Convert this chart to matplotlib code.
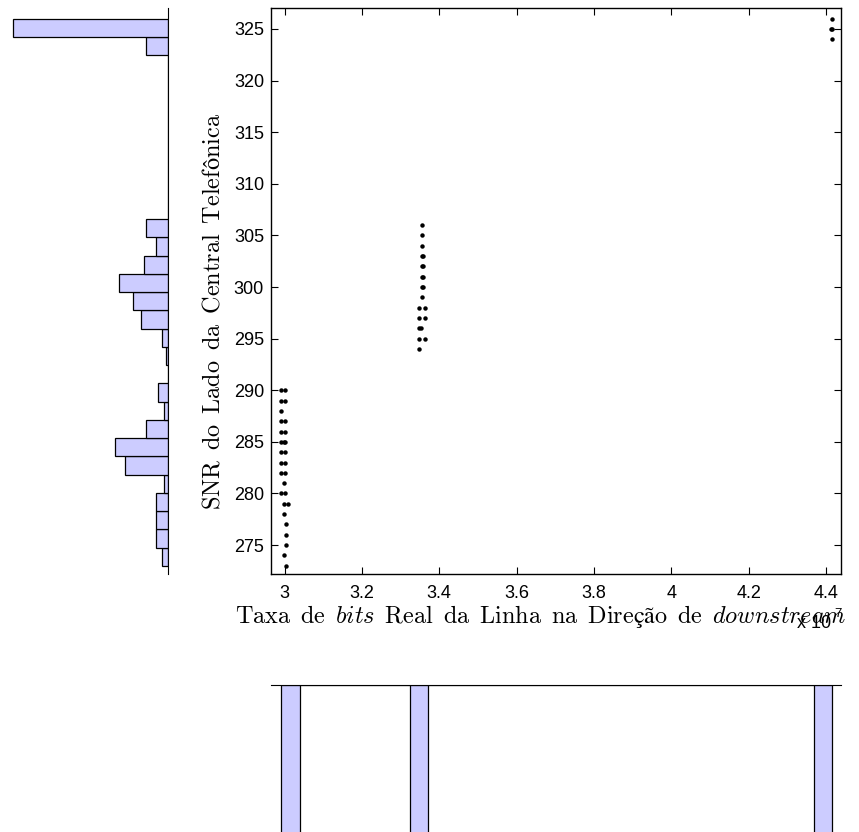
import numpy as np
import matplotlib
matplotlib.use('Agg')
import matplotlib.pyplot as plt
from matplotlib.ticker import FuncFormatter

plt.rcParams['font.family'] = ['Liberation Sans', 'DejaVu Sans']
plt.rcParams['mathtext.fontset'] = 'cm'

# scatter points: bit rate downstream (bit/s) vs SNR
x_g1 = [2.992e7, 3.002e7, 2.992e7, 3.002e7, 2.992e7, 2.992e7, 3.002e7,
        2.992e7, 3.002e7, 2.992e7, 2.998e7, 3.002e7, 2.992e7, 3.002e7,
        2.992e7, 3.002e7, 2.992e7, 3.002e7, 2.998e7, 2.992e7, 3.002e7,
        2.998e7, 3.010e7, 2.998e7, 3.005e7, 3.005e7, 3.005e7, 2.998e7,
        3.005e7]
y_g1 = [290, 290, 289, 289, 288, 287, 287,
        286, 286, 285, 285, 285, 284, 284,
        283, 283, 282, 282, 281, 280, 280,
        279, 279, 278, 277, 276, 275, 274,
        273]
x_g2 = [3.356e7, 3.356e7, 3.356e7, 3.356e7, 3.358e7, 3.356e7, 3.358e7,
        3.356e7, 3.358e7, 3.356e7, 3.358e7, 3.356e7, 3.347e7, 3.362e7,
        3.347e7, 3.362e7, 3.347e7, 3.354e7, 3.347e7, 3.362e7, 3.347e7]
y_g2 = [306, 305, 304, 303, 303, 302, 302,
        301, 301, 300, 300, 299, 298, 298,
        297, 297, 296, 296, 295, 295, 294]
x_g3 = [4.416e7, 4.413e7, 4.416e7, 4.416e7]
y_g3 = [326, 325, 325, 324]

# histogram counts (30 bins each)
y_hist_counts = [3, 6, 6, 6, 2, 22, 27, 11, 2, 5, 0, 1, 3, 14, 18,
                 25, 12, 6, 11, 0, 0, 0, 0, 0, 0, 0, 0, 0, 11, 79]
x_hist_bins = [0, 7, 29]
x_hist_vals = [90, 90, 90]

x_ticks = [3.0e7, 3.2e7, 3.4e7, 3.6e7, 3.8e7, 4.0e7, 4.2e7, 4.4e7]
y_ticks = [275, 280, 285, 290, 295, 300, 305, 310, 315, 320, 325]

xs = np.array(x_g1 + x_g2 + x_g3)
ys = np.array(y_g1 + y_g2 + y_g3)
nb = 30
x_edges = np.linspace(xs.min(), xs.max(), nb + 1)
y_edges = np.linspace(ys.min(), ys.max(), nb + 1)
x_counts = np.zeros(nb)
x_counts[x_hist_bins] = x_hist_vals

xlim = (2.965e7, 4.439e7)
ylim = (272.2, 327.0)
W, H = 859, 832
fig = plt.figure(figsize=(W / 100, H / 100), dpi=100)

ax = fig.add_axes([271 / W, 1 - 574 / H, 570 / W, 565.7 / H])
ax.plot(xs, ys, 'o', color='k', ms=3.2, mec='none')
ax.set_xlim(xlim)
ax.set_ylim(ylim)
ax.set_xticks(x_ticks)
ax.set_yticks(y_ticks)
ax.xaxis.set_major_formatter(FuncFormatter(lambda v, p: '%g' % round(v / 1e7, 2)))
ax.tick_params(direction='in', top=True, right=True, length=5, width=0.8,
               labelsize=13, pad=5)
ax.tick_params(axis='x', pad=8)
for s in ax.spines.values():
    s.set_linewidth(1.0)

sp = r'\ \,'
xlab = (r'$\mathrm{Taxa' + sp + 'de' + sp + r'}\mathit{bits}\mathrm{' + sp + 'Real' + sp
        + 'da' + sp + 'Linha' + sp + 'na' + sp + 'Direção' + sp + r'de' + sp
        + r'}\mathit{downstream}$')
ylab = (r'$\mathrm{SNR' + sp + 'do' + sp + 'Lado' + sp + 'da' + sp + 'Central'
        + sp + r'Telefônica}$')
fig.text(541 / W, 1 - 623 / H, xlab, ha='center', va='baseline', fontsize=17.5)
fig.text(213 / W, 1 - 311 / H, ylab, ha='center', va='center', rotation=90,
         fontsize=17.5)
fig.text(797 / W, 1 - 628 / H, 'x 10', ha='left', va='baseline', fontsize=13)
fig.text(834 / W, 1 - 617 / H, '7', ha='left', va='baseline', fontsize=9.5)

# marginal histogram of y (left)
axy = fig.add_axes([0, 1 - 574 / H, 168 / W, 565.7 / H])
axy.barh((y_edges[:-1] + y_edges[1:]) / 2, y_hist_counts,
         height=np.diff(y_edges), color='#ccccff', edgecolor='k', lw=0.9)
axy.set_ylim(ylim)
axy.set_xlim(168 / 1.96, 0)
axy.set_xticks([])
axy.set_yticks([])
for k in ['left', 'top', 'bottom']:
    axy.spines[k].set_visible(False)
axy.patch.set_visible(False)

# marginal histogram of x (bottom, hanging down)
axx = fig.add_axes([271 / W, -0.2, 570 / W, 0.2 + (832 - 685) / H])
axx.bar((x_edges[:-1] + x_edges[1:]) / 2, x_counts,
        width=np.diff(x_edges), color='#ccccff', edgecolor='k', lw=0.9)
axx.set_xlim(xlim)
axx.set_ylim(100, 0)
axx.set_xticks([])
axx.set_yticks([])
for k in ['left', 'right', 'bottom']:
    axx.spines[k].set_visible(False)
axx.patch.set_visible(False)

fig.savefig('out.png', dpi=100)
